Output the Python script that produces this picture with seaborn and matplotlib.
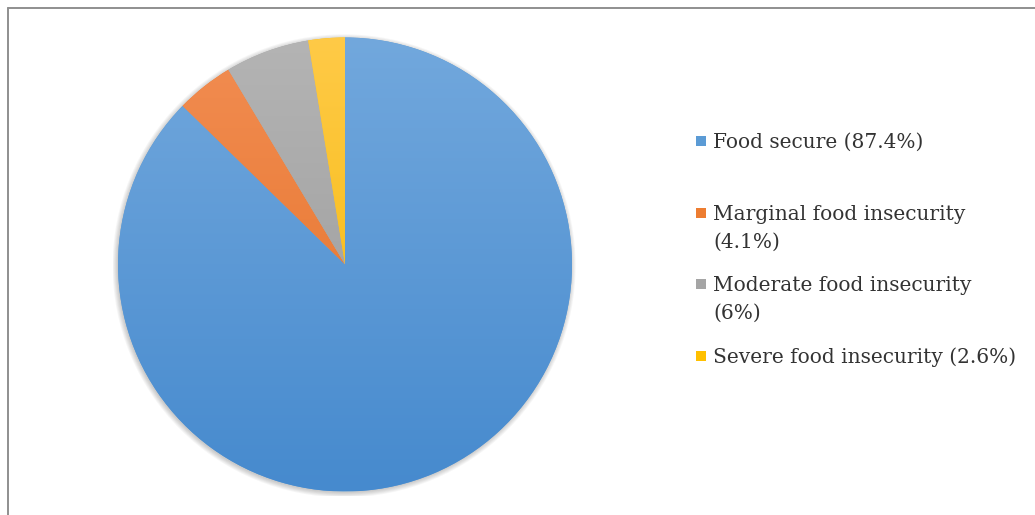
import numpy as np
import matplotlib
matplotlib.use("Agg")
import matplotlib.pyplot as plt
import seaborn as sns
from matplotlib.colors import LinearSegmentedColormap
from matplotlib.patches import Rectangle, Circle
from matplotlib.lines import Line2D

categories = ["Food secure", "Marginal food insecurity",
              "Moderate food insecurity", "Severe food insecurity"]
values = [87.4, 4.1, 6.0, 2.6]
legend_labels = ["Food secure (87.4%)",
                 "Marginal food insecurity\n(4.1%)",
                 "Moderate food insecurity\n(6%)",
                 "Severe food insecurity (2.6%)"]
colors = ["#5b9bd5", "#ed7d31", "#a5a5a5", "#ffc000"]
colors_top = ["#72a8dd", "#f28d52", "#b4b4b4", "#ffca47"]
colors_bottom = ["#468ace", "#e36f24", "#979797", "#f2b600"]

sns.set_theme(style="white")
plt.rcParams['font.family'] = ['DejaVu Serif']

W, H = 1035, 515
fig = plt.figure(figsize=(W / 100, H / 100), dpi=100)
fig.patch.set_facecolor("white")

cx, cy, r = 345, 264.5, 227
lim = 1.02
ra = r * lim
ax = fig.add_axes([(cx - ra) / W, (H - cy - ra) / H, 2 * ra / W, 2 * ra / H])

# soft shadow
for k in range(6):
    ax.add_patch(Circle((-0.004, -0.006), 1.0 + 0.004 * k, color="#000000",
                        alpha=0.035, lw=0, zorder=0))

wedges, _ = ax.pie(values, colors=colors, startangle=90, counterclock=False,
                   radius=1, wedgeprops=dict(linewidth=0))
grad = np.linspace(0, 1, 256).reshape(-1, 1)
for w, ct, cb in zip(wedges, colors_top, colors_bottom):
    w.set_zorder(2)
    cmap = LinearSegmentedColormap.from_list("g", [ct, cb])
    im = ax.imshow(grad, cmap=cmap, extent=[-1, 1, -1, 1], origin='upper',
                   aspect='auto', zorder=3, interpolation='bilinear')
    im.set_clip_path(w)
ax.set_xlim(-lim, lim)
ax.set_ylim(-lim, lim)
ax.set_aspect('equal')
ax.axis('off')

# frame lines (top and left)
fig.add_artist(Line2D([7.5 / W, 7.5 / W], [0, 1 - 7.5 / H], transform=fig.transFigure,
                      color="#8f8f8f", lw=1.4))
fig.add_artist(Line2D([7.5 / W, 1], [1 - 7.5 / H, 1 - 7.5 / H], transform=fig.transFigure,
                      color="#8f8f8f", lw=1.4))

# legend (first-line baselines in pixels)
baselines = [148, 220, 291, 363]
line_gap = 28
for lab, col, b in zip(legend_labels, colors, baselines):
    n = lab.count("\n")
    fig.add_artist(Rectangle((696 / W, (H - b + 2) / H), 10 / W, 10 / H,
                             transform=fig.transFigure, facecolor=col, lw=0))
    fig.text(713 / W, (H - b - n * line_gap) / H, lab, fontsize=14.5, color="#333333",
             va='baseline', ha='left', linespacing=1.62)

fig.savefig("out.png", dpi=100, facecolor="white")
